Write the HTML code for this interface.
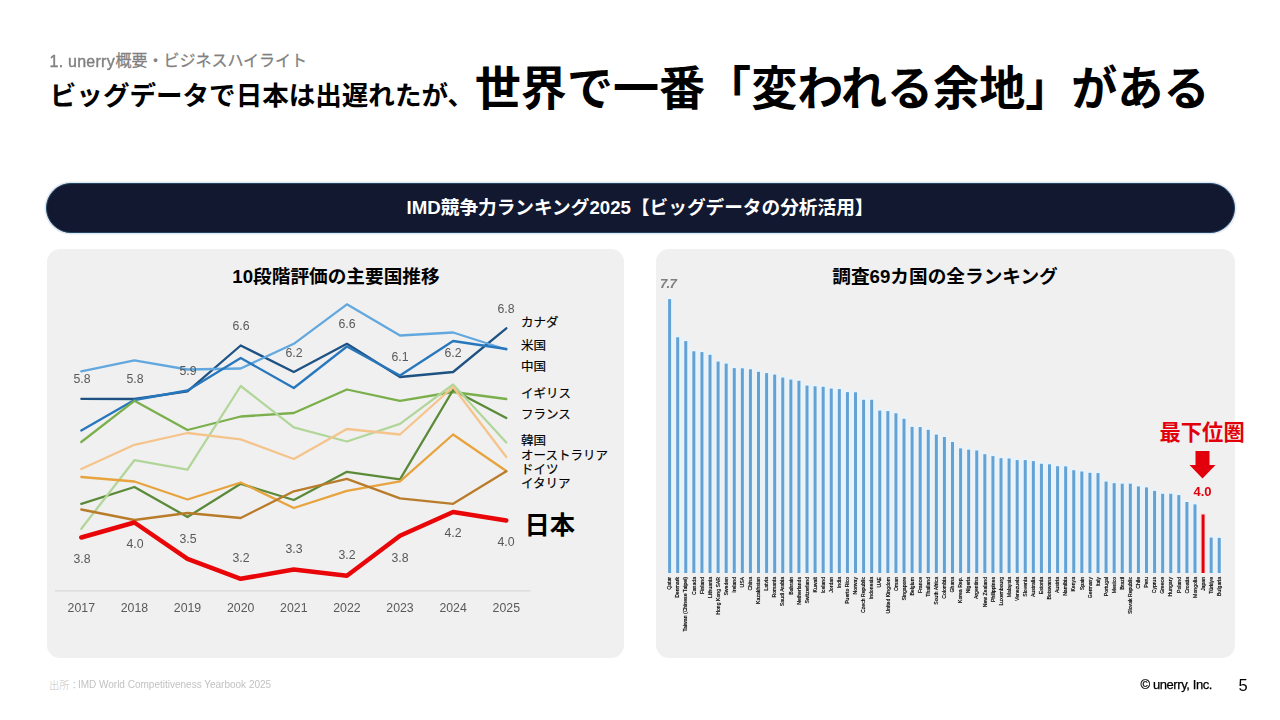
<!DOCTYPE html>
<html lang="ja"><head><meta charset="utf-8"><title>unerry - IMD競争力ランキング2025</title>
<style>
html,body{margin:0;padding:0;background:#fff;}
body{width:1280px;height:720px;overflow:hidden;font-family:"Liberation Sans",sans-serif;}
.slide{position:relative;width:1280px;height:720px;background:#fff;overflow:hidden;}
.panel{position:absolute;top:249.2px;height:408.5px;background:#f0f0f0;border-radius:13px;}
.pill{position:absolute;left:46px;top:182.8px;width:1189px;height:50.3px;box-sizing:border-box;border-radius:25.15px;background:#11182f;border:1.6px solid #214465;box-shadow:0 0 0 1.6px #e3e9f0;}
svg.art{position:absolute;left:0;top:0;width:1280px;height:720px;overflow:visible;}
svg.art text{font-family:"Liberation Sans","Noto Sans CJK JP",sans-serif;}
.labels{position:absolute;left:0;top:0;width:1280px;height:720px;will-change:transform;}
.t{position:absolute;white-space:nowrap;font-family:"Liberation Sans",sans-serif;}
.cn{position:absolute;white-space:nowrap;font-family:"Liberation Sans",sans-serif;font-size:5.15px;line-height:5.15px;font-weight:normal;color:#000;transform-origin:0 0;transform:rotate(-90deg) translateX(-100%);letter-spacing:0px;-webkit-text-stroke:0.18px #000;}
</style></head>
<body><div class="slide">
<div class="panel" style="left:47.4px;width:577.0px"></div>
<div class="panel" style="left:656px;width:579.0px"></div>
<div class="pill"></div>
<svg class="art" viewBox="0 0 1280 720" width="1280" height="720">
<text x="115.4" y="66.3" font-size="16" fill="#808080" stroke="#808080" stroke-width="0.26">概要・ビジネスハイライト</text>
<text x="49.8" y="105.2" font-size="26.55" font-weight="bold" fill="#000">ビッグデータで日本は出遅れたが、</text>
<text x="474.8" y="104.7" font-size="46.07" font-weight="bold" fill="#000">世界で一番「変われる余地」がある</text>
<text x="640" y="214.3" font-size="18.67" font-weight="bold" fill="#fff" text-anchor="middle">IMD競争力ランキング2025【ビッグデータの分析活用】</text>
<polyline points="81.3,398.8 134.4,399.0 187.5,391.3 240.7,345.5 293.8,372.0 346.9,343.8 400.0,377.0 453.1,372.0 506.3,328.3" fill="none" stroke="#1d5283" stroke-width="2.3" stroke-linejoin="round" stroke-linecap="round"/>
<polyline points="81.3,371.3 134.4,360.3 187.5,369.5 240.7,368.5 293.8,343.8 346.9,304.3 400.0,335.5 453.1,332.5 506.3,349.5" fill="none" stroke="#62a8df" stroke-width="2.3" stroke-linejoin="round" stroke-linecap="round"/>
<polyline points="81.3,430.5 134.4,400.0 187.5,390.5 240.7,358.0 293.8,388.0 346.9,346.5 400.0,375.5 453.1,341.0 506.3,349.0" fill="none" stroke="#2877bd" stroke-width="2.3" stroke-linejoin="round" stroke-linecap="round"/>
<polyline points="81.3,442.0 134.4,400.8 187.5,430.0 240.7,416.5 293.8,413.0 346.9,389.5 400.0,400.8 453.1,392.0 506.3,399.0" fill="none" stroke="#7aaf4c" stroke-width="2.3" stroke-linejoin="round" stroke-linecap="round"/>
<polyline points="81.3,503.8 134.4,487.0 187.5,517.0 240.7,483.8 293.8,500.0 346.9,471.8 400.0,479.3 453.1,390.0 506.3,418.0" fill="none" stroke="#5b8a39" stroke-width="2.3" stroke-linejoin="round" stroke-linecap="round"/>
<polyline points="81.3,528.8 134.4,460.2 187.5,469.6 240.7,386.0 293.8,427.3 346.9,441.5 400.0,423.8 453.1,384.5 506.3,442.5" fill="none" stroke="#b2d69a" stroke-width="2.3" stroke-linejoin="round" stroke-linecap="round"/>
<polyline points="81.3,469.0 134.4,444.8 187.5,433.0 240.7,439.3 293.8,459.0 346.9,429.0 400.0,434.5 453.1,387.0 506.3,457.0" fill="none" stroke="#f5c48c" stroke-width="2.3" stroke-linejoin="round" stroke-linecap="round"/>
<polyline points="81.3,477.0 134.4,481.5 187.5,499.5 240.7,482.5 293.8,508.0 346.9,490.8 400.0,481.3 453.1,434.5 506.3,471.0" fill="none" stroke="#e7a33e" stroke-width="2.3" stroke-linejoin="round" stroke-linecap="round"/>
<polyline points="81.3,509.5 134.4,520.0 187.5,513.0 240.7,518.0 293.8,491.3 346.9,478.8 400.0,498.3 453.1,503.8 506.3,471.3" fill="none" stroke="#b87c2a" stroke-width="2.3" stroke-linejoin="round" stroke-linecap="round"/>
<polyline points="81.3,537.5 134.4,522.5 187.5,558.8 240.7,578.8 293.8,569.5 346.9,575.8 400.0,535.8 453.1,512.0 506.3,520.5" fill="none" stroke="#e90609" stroke-width="4.5" stroke-linejoin="round" stroke-linecap="round"/>
<line x1="55" x2="530.5" y1="590.8" y2="590.8" stroke="#d9d9d9" stroke-width="1.2"/>
<text x="336" y="283" font-size="18.67" font-weight="bold" fill="#000" text-anchor="middle">10段階評価の主要国推移</text>
<text x="521" y="327" font-size="12.5" fill="#000" stroke="#000" stroke-width="0.175">カナダ</text>
<text x="521" y="350" font-size="12.5" fill="#000" stroke="#000" stroke-width="0.175">米国</text>
<text x="521" y="371" font-size="12.5" fill="#000" stroke="#000" stroke-width="0.175">中国</text>
<text x="521" y="398" font-size="12.5" fill="#000" stroke="#000" stroke-width="0.175">イギリス</text>
<text x="521" y="419" font-size="12.5" fill="#000" stroke="#000" stroke-width="0.175">フランス</text>
<text x="521" y="445" font-size="12.5" fill="#000" stroke="#000" stroke-width="0.175">韓国</text>
<text x="521" y="460" font-size="12.5" fill="#000" stroke="#000" stroke-width="0.175">オーストラリア</text>
<text x="521" y="474" font-size="12.5" fill="#000" stroke="#000" stroke-width="0.175">ドイツ</text>
<text x="521" y="488" font-size="12.5" fill="#000" stroke="#000" stroke-width="0.175">イタリア</text>
<text x="524.4" y="534.2" font-size="25.3" font-weight="bold" fill="#000">日本</text>
<rect x="666.40" y="297.50" width="6.40" height="275.50" fill="#e7f4fd"/>
<rect x="668.10" y="299.10" width="3.00" height="273.90" fill="#64a2d4"/>
<rect x="674.48" y="335.70" width="6.40" height="237.30" fill="#e7f4fd"/>
<rect x="676.18" y="337.30" width="3.00" height="235.70" fill="#64a2d4"/>
<rect x="682.57" y="339.50" width="6.40" height="233.50" fill="#e7f4fd"/>
<rect x="684.27" y="341.10" width="3.00" height="231.90" fill="#64a2d4"/>
<rect x="690.65" y="349.70" width="6.40" height="223.30" fill="#e7f4fd"/>
<rect x="692.35" y="351.30" width="3.00" height="221.70" fill="#64a2d4"/>
<rect x="698.73" y="350.50" width="6.40" height="222.50" fill="#e7f4fd"/>
<rect x="700.43" y="352.10" width="3.00" height="220.90" fill="#64a2d4"/>
<rect x="706.81" y="353.20" width="6.40" height="219.80" fill="#e7f4fd"/>
<rect x="708.51" y="354.80" width="3.00" height="218.20" fill="#64a2d4"/>
<rect x="714.90" y="360.00" width="6.40" height="213.00" fill="#e7f4fd"/>
<rect x="716.60" y="361.60" width="3.00" height="211.40" fill="#64a2d4"/>
<rect x="722.98" y="362.00" width="6.40" height="211.00" fill="#e7f4fd"/>
<rect x="724.68" y="363.60" width="3.00" height="209.40" fill="#64a2d4"/>
<rect x="731.06" y="366.50" width="6.40" height="206.50" fill="#e7f4fd"/>
<rect x="732.76" y="368.10" width="3.00" height="204.90" fill="#64a2d4"/>
<rect x="739.15" y="366.70" width="6.40" height="206.30" fill="#e7f4fd"/>
<rect x="740.85" y="368.30" width="3.00" height="204.70" fill="#64a2d4"/>
<rect x="747.23" y="367.70" width="6.40" height="205.30" fill="#e7f4fd"/>
<rect x="748.93" y="369.30" width="3.00" height="203.70" fill="#64a2d4"/>
<rect x="755.31" y="370.20" width="6.40" height="202.80" fill="#e7f4fd"/>
<rect x="757.01" y="371.80" width="3.00" height="201.20" fill="#64a2d4"/>
<rect x="763.40" y="371.50" width="6.40" height="201.50" fill="#e7f4fd"/>
<rect x="765.10" y="373.10" width="3.00" height="199.90" fill="#64a2d4"/>
<rect x="771.48" y="373.00" width="6.40" height="200.00" fill="#e7f4fd"/>
<rect x="773.18" y="374.60" width="3.00" height="198.40" fill="#64a2d4"/>
<rect x="779.56" y="376.00" width="6.40" height="197.00" fill="#e7f4fd"/>
<rect x="781.26" y="377.60" width="3.00" height="195.40" fill="#64a2d4"/>
<rect x="787.64" y="378.00" width="6.40" height="195.00" fill="#e7f4fd"/>
<rect x="789.35" y="379.60" width="3.00" height="193.40" fill="#64a2d4"/>
<rect x="795.73" y="379.20" width="6.40" height="193.80" fill="#e7f4fd"/>
<rect x="797.43" y="380.80" width="3.00" height="192.20" fill="#64a2d4"/>
<rect x="803.81" y="384.00" width="6.40" height="189.00" fill="#e7f4fd"/>
<rect x="805.51" y="385.60" width="3.00" height="187.40" fill="#64a2d4"/>
<rect x="811.89" y="384.70" width="6.40" height="188.30" fill="#e7f4fd"/>
<rect x="813.59" y="386.30" width="3.00" height="186.70" fill="#64a2d4"/>
<rect x="819.98" y="385.20" width="6.40" height="187.80" fill="#e7f4fd"/>
<rect x="821.68" y="386.80" width="3.00" height="186.20" fill="#64a2d4"/>
<rect x="828.06" y="387.00" width="6.40" height="186.00" fill="#e7f4fd"/>
<rect x="829.76" y="388.60" width="3.00" height="184.40" fill="#64a2d4"/>
<rect x="836.14" y="387.50" width="6.40" height="185.50" fill="#e7f4fd"/>
<rect x="837.84" y="389.10" width="3.00" height="183.90" fill="#64a2d4"/>
<rect x="844.23" y="390.50" width="6.40" height="182.50" fill="#e7f4fd"/>
<rect x="845.93" y="392.10" width="3.00" height="180.90" fill="#64a2d4"/>
<rect x="852.31" y="390.70" width="6.40" height="182.30" fill="#e7f4fd"/>
<rect x="854.01" y="392.30" width="3.00" height="180.70" fill="#64a2d4"/>
<rect x="860.39" y="398.20" width="6.40" height="174.80" fill="#e7f4fd"/>
<rect x="862.09" y="399.80" width="3.00" height="173.20" fill="#64a2d4"/>
<rect x="868.48" y="398.20" width="6.40" height="174.80" fill="#e7f4fd"/>
<rect x="870.18" y="399.80" width="3.00" height="173.20" fill="#64a2d4"/>
<rect x="876.56" y="409.00" width="6.40" height="164.00" fill="#e7f4fd"/>
<rect x="878.26" y="410.60" width="3.00" height="162.40" fill="#64a2d4"/>
<rect x="884.64" y="409.50" width="6.40" height="163.50" fill="#e7f4fd"/>
<rect x="886.34" y="411.10" width="3.00" height="161.90" fill="#64a2d4"/>
<rect x="892.72" y="411.70" width="6.40" height="161.30" fill="#e7f4fd"/>
<rect x="894.42" y="413.30" width="3.00" height="159.70" fill="#64a2d4"/>
<rect x="900.81" y="417.20" width="6.40" height="155.80" fill="#e7f4fd"/>
<rect x="902.51" y="418.80" width="3.00" height="154.20" fill="#64a2d4"/>
<rect x="908.89" y="425.30" width="6.40" height="147.70" fill="#e7f4fd"/>
<rect x="910.59" y="426.90" width="3.00" height="146.10" fill="#64a2d4"/>
<rect x="916.97" y="425.50" width="6.40" height="147.50" fill="#e7f4fd"/>
<rect x="918.67" y="427.10" width="3.00" height="145.90" fill="#64a2d4"/>
<rect x="925.06" y="428.20" width="6.40" height="144.80" fill="#e7f4fd"/>
<rect x="926.76" y="429.80" width="3.00" height="143.20" fill="#64a2d4"/>
<rect x="933.14" y="433.00" width="6.40" height="140.00" fill="#e7f4fd"/>
<rect x="934.84" y="434.60" width="3.00" height="138.40" fill="#64a2d4"/>
<rect x="941.22" y="435.40" width="6.40" height="137.60" fill="#e7f4fd"/>
<rect x="942.92" y="437.00" width="3.00" height="136.00" fill="#64a2d4"/>
<rect x="949.31" y="440.40" width="6.40" height="132.60" fill="#e7f4fd"/>
<rect x="951.01" y="442.00" width="3.00" height="131.00" fill="#64a2d4"/>
<rect x="957.39" y="446.80" width="6.40" height="126.20" fill="#e7f4fd"/>
<rect x="959.09" y="448.40" width="3.00" height="124.60" fill="#64a2d4"/>
<rect x="965.47" y="448.10" width="6.40" height="124.90" fill="#e7f4fd"/>
<rect x="967.17" y="449.70" width="3.00" height="123.30" fill="#64a2d4"/>
<rect x="973.55" y="448.90" width="6.40" height="124.10" fill="#e7f4fd"/>
<rect x="975.25" y="450.50" width="3.00" height="122.50" fill="#64a2d4"/>
<rect x="981.64" y="452.60" width="6.40" height="120.40" fill="#e7f4fd"/>
<rect x="983.34" y="454.20" width="3.00" height="118.80" fill="#64a2d4"/>
<rect x="989.72" y="454.50" width="6.40" height="118.50" fill="#e7f4fd"/>
<rect x="991.42" y="456.10" width="3.00" height="116.90" fill="#64a2d4"/>
<rect x="997.80" y="456.60" width="6.40" height="116.40" fill="#e7f4fd"/>
<rect x="999.50" y="458.20" width="3.00" height="114.80" fill="#64a2d4"/>
<rect x="1005.89" y="456.90" width="6.40" height="116.10" fill="#e7f4fd"/>
<rect x="1007.59" y="458.50" width="3.00" height="114.50" fill="#64a2d4"/>
<rect x="1013.97" y="458.50" width="6.40" height="114.50" fill="#e7f4fd"/>
<rect x="1015.67" y="460.10" width="3.00" height="112.90" fill="#64a2d4"/>
<rect x="1022.05" y="458.50" width="6.40" height="114.50" fill="#e7f4fd"/>
<rect x="1023.75" y="460.10" width="3.00" height="112.90" fill="#64a2d4"/>
<rect x="1030.13" y="459.50" width="6.40" height="113.50" fill="#e7f4fd"/>
<rect x="1031.84" y="461.10" width="3.00" height="111.90" fill="#64a2d4"/>
<rect x="1038.22" y="462.20" width="6.40" height="110.80" fill="#e7f4fd"/>
<rect x="1039.92" y="463.80" width="3.00" height="109.20" fill="#64a2d4"/>
<rect x="1046.30" y="462.70" width="6.40" height="110.30" fill="#e7f4fd"/>
<rect x="1048.00" y="464.30" width="3.00" height="108.70" fill="#64a2d4"/>
<rect x="1054.38" y="464.60" width="6.40" height="108.40" fill="#e7f4fd"/>
<rect x="1056.08" y="466.20" width="3.00" height="106.80" fill="#64a2d4"/>
<rect x="1062.47" y="464.80" width="6.40" height="108.20" fill="#e7f4fd"/>
<rect x="1064.17" y="466.40" width="3.00" height="106.60" fill="#64a2d4"/>
<rect x="1070.55" y="468.60" width="6.40" height="104.40" fill="#e7f4fd"/>
<rect x="1072.25" y="470.20" width="3.00" height="102.80" fill="#64a2d4"/>
<rect x="1078.63" y="469.90" width="6.40" height="103.10" fill="#e7f4fd"/>
<rect x="1080.33" y="471.50" width="3.00" height="101.50" fill="#64a2d4"/>
<rect x="1086.72" y="471.20" width="6.40" height="101.80" fill="#e7f4fd"/>
<rect x="1088.42" y="472.80" width="3.00" height="100.20" fill="#64a2d4"/>
<rect x="1094.80" y="471.50" width="6.40" height="101.50" fill="#e7f4fd"/>
<rect x="1096.50" y="473.10" width="3.00" height="99.90" fill="#64a2d4"/>
<rect x="1102.88" y="480.00" width="6.40" height="93.00" fill="#e7f4fd"/>
<rect x="1104.58" y="481.60" width="3.00" height="91.40" fill="#64a2d4"/>
<rect x="1110.96" y="481.60" width="6.40" height="91.40" fill="#e7f4fd"/>
<rect x="1112.66" y="483.20" width="3.00" height="89.80" fill="#64a2d4"/>
<rect x="1119.05" y="482.10" width="6.40" height="90.90" fill="#e7f4fd"/>
<rect x="1120.75" y="483.70" width="3.00" height="89.30" fill="#64a2d4"/>
<rect x="1127.13" y="482.10" width="6.40" height="90.90" fill="#e7f4fd"/>
<rect x="1128.83" y="483.70" width="3.00" height="89.30" fill="#64a2d4"/>
<rect x="1135.21" y="484.80" width="6.40" height="88.20" fill="#e7f4fd"/>
<rect x="1136.91" y="486.40" width="3.00" height="86.60" fill="#64a2d4"/>
<rect x="1143.30" y="485.80" width="6.40" height="87.20" fill="#e7f4fd"/>
<rect x="1145.00" y="487.40" width="3.00" height="85.60" fill="#64a2d4"/>
<rect x="1151.38" y="489.30" width="6.40" height="83.70" fill="#e7f4fd"/>
<rect x="1153.08" y="490.90" width="3.00" height="82.10" fill="#64a2d4"/>
<rect x="1159.46" y="492.20" width="6.40" height="80.80" fill="#e7f4fd"/>
<rect x="1161.16" y="493.80" width="3.00" height="79.20" fill="#64a2d4"/>
<rect x="1167.55" y="492.20" width="6.40" height="80.80" fill="#e7f4fd"/>
<rect x="1169.25" y="493.80" width="3.00" height="79.20" fill="#64a2d4"/>
<rect x="1175.63" y="493.50" width="6.40" height="79.50" fill="#e7f4fd"/>
<rect x="1177.33" y="495.10" width="3.00" height="77.90" fill="#64a2d4"/>
<rect x="1183.71" y="500.40" width="6.40" height="72.60" fill="#e7f4fd"/>
<rect x="1185.41" y="502.00" width="3.00" height="71.00" fill="#64a2d4"/>
<rect x="1191.79" y="502.80" width="6.40" height="70.20" fill="#e7f4fd"/>
<rect x="1193.49" y="504.40" width="3.00" height="68.60" fill="#64a2d4"/>
<rect x="1199.88" y="512.90" width="6.40" height="60.10" fill="#f6e4e4"/>
<rect x="1201.58" y="514.50" width="3.00" height="58.50" fill="#e2000c"/>
<rect x="1207.96" y="536.00" width="6.40" height="37.00" fill="#e7f4fd"/>
<rect x="1209.66" y="537.60" width="3.00" height="35.40" fill="#64a2d4"/>
<rect x="1216.04" y="536.30" width="6.40" height="36.70" fill="#e7f4fd"/>
<rect x="1217.74" y="537.90" width="3.00" height="35.10" fill="#64a2d4"/>
<text x="945" y="283" font-size="18.67" font-weight="bold" fill="#000" text-anchor="middle">調査69カ国の全ランキング</text>
<text x="1159.5" y="440" font-size="21.3" font-weight="bold" fill="#e2000c">最下位圏</text>
<path fill="#e2000c" d="M1195.5 451H1209.5V465H1215.5L1202.5 478.6L1189.5 465H1195.5Z"/>
<text x="49.2" y="688.8" font-size="10" font-weight="300" fill="#c2c2c2">出所：</text>
</svg>
<div class="labels">
<span class="t" style="left:49.5px;top:53.0px;font-size:16px;line-height:18.38px;color:#808080;font-weight:normal;-webkit-text-stroke:0.4px #808080;letter-spacing:0.25px;">1. unerry</span>
<span class="t" style="left:81.3px;top:600.8px;font-size:12.3px;line-height:14.13px;color:#595959;font-weight:normal;transform:translateX(-50%);">2017</span>
<span class="t" style="left:134.4px;top:600.8px;font-size:12.3px;line-height:14.13px;color:#595959;font-weight:normal;transform:translateX(-50%);">2018</span>
<span class="t" style="left:187.5px;top:600.8px;font-size:12.3px;line-height:14.13px;color:#595959;font-weight:normal;transform:translateX(-50%);">2019</span>
<span class="t" style="left:240.7px;top:600.8px;font-size:12.3px;line-height:14.13px;color:#595959;font-weight:normal;transform:translateX(-50%);">2020</span>
<span class="t" style="left:293.8px;top:600.8px;font-size:12.3px;line-height:14.13px;color:#595959;font-weight:normal;transform:translateX(-50%);">2021</span>
<span class="t" style="left:346.9px;top:600.8px;font-size:12.3px;line-height:14.13px;color:#595959;font-weight:normal;transform:translateX(-50%);">2022</span>
<span class="t" style="left:400.0px;top:600.8px;font-size:12.3px;line-height:14.13px;color:#595959;font-weight:normal;transform:translateX(-50%);">2023</span>
<span class="t" style="left:453.1px;top:600.8px;font-size:12.3px;line-height:14.13px;color:#595959;font-weight:normal;transform:translateX(-50%);">2024</span>
<span class="t" style="left:506.3px;top:600.8px;font-size:12.3px;line-height:14.13px;color:#595959;font-weight:normal;transform:translateX(-50%);">2025</span>
<span class="t" style="left:82.0px;top:371.5px;font-size:12.3px;line-height:14.13px;color:#595959;font-weight:normal;transform:translateX(-50%);">5.8</span>
<span class="t" style="left:135.0px;top:371.5px;font-size:12.3px;line-height:14.13px;color:#595959;font-weight:normal;transform:translateX(-50%);">5.8</span>
<span class="t" style="left:188.0px;top:363.5px;font-size:12.3px;line-height:14.13px;color:#595959;font-weight:normal;transform:translateX(-50%);">5.9</span>
<span class="t" style="left:241.0px;top:318.5px;font-size:12.3px;line-height:14.13px;color:#595959;font-weight:normal;transform:translateX(-50%);">6.6</span>
<span class="t" style="left:294.0px;top:345.5px;font-size:12.3px;line-height:14.13px;color:#595959;font-weight:normal;transform:translateX(-50%);">6.2</span>
<span class="t" style="left:347.0px;top:316.5px;font-size:12.3px;line-height:14.13px;color:#595959;font-weight:normal;transform:translateX(-50%);">6.6</span>
<span class="t" style="left:400.0px;top:349.5px;font-size:12.3px;line-height:14.13px;color:#595959;font-weight:normal;transform:translateX(-50%);">6.1</span>
<span class="t" style="left:453.0px;top:345.5px;font-size:12.3px;line-height:14.13px;color:#595959;font-weight:normal;transform:translateX(-50%);">6.2</span>
<span class="t" style="left:506.0px;top:301.5px;font-size:12.3px;line-height:14.13px;color:#595959;font-weight:normal;transform:translateX(-50%);">6.8</span>
<span class="t" style="left:82.0px;top:551.5px;font-size:12.3px;line-height:14.13px;color:#595959;font-weight:normal;transform:translateX(-50%);">3.8</span>
<span class="t" style="left:135.0px;top:536.5px;font-size:12.3px;line-height:14.13px;color:#595959;font-weight:normal;transform:translateX(-50%);">4.0</span>
<span class="t" style="left:188.0px;top:531.5px;font-size:12.3px;line-height:14.13px;color:#595959;font-weight:normal;transform:translateX(-50%);">3.5</span>
<span class="t" style="left:241.0px;top:550.5px;font-size:12.3px;line-height:14.13px;color:#595959;font-weight:normal;transform:translateX(-50%);">3.2</span>
<span class="t" style="left:294.0px;top:541.5px;font-size:12.3px;line-height:14.13px;color:#595959;font-weight:normal;transform:translateX(-50%);">3.3</span>
<span class="t" style="left:347.0px;top:547.5px;font-size:12.3px;line-height:14.13px;color:#595959;font-weight:normal;transform:translateX(-50%);">3.2</span>
<span class="t" style="left:400.0px;top:550.5px;font-size:12.3px;line-height:14.13px;color:#595959;font-weight:normal;transform:translateX(-50%);">3.8</span>
<span class="t" style="left:453.0px;top:525.5px;font-size:12.3px;line-height:14.13px;color:#595959;font-weight:normal;transform:translateX(-50%);">4.2</span>
<span class="t" style="left:506.0px;top:534.5px;font-size:12.3px;line-height:14.13px;color:#595959;font-weight:normal;transform:translateX(-50%);">4.0</span>
<span class="cn" style="left:667.30px;top:577.00px;">Qatar</span>
<span class="cn" style="left:675.38px;top:577.00px;">Denmark</span>
<span class="cn" style="left:683.47px;top:577.00px;">Taiwan (Chinese Taipei)</span>
<span class="cn" style="left:691.55px;top:577.00px;">Canada</span>
<span class="cn" style="left:699.63px;top:577.00px;">Finland</span>
<span class="cn" style="left:707.72px;top:577.00px;">Lithuania</span>
<span class="cn" style="left:715.80px;top:577.00px;">Hong Kong SAR</span>
<span class="cn" style="left:723.88px;top:577.00px;">Sweden</span>
<span class="cn" style="left:731.96px;top:577.00px;">Ireland</span>
<span class="cn" style="left:740.05px;top:577.00px;">USA</span>
<span class="cn" style="left:748.13px;top:577.00px;">China</span>
<span class="cn" style="left:756.21px;top:577.00px;">Kazakhstan</span>
<span class="cn" style="left:764.30px;top:577.00px;">Latvia</span>
<span class="cn" style="left:772.38px;top:577.00px;">Romania</span>
<span class="cn" style="left:780.46px;top:577.00px;">Saudi Arabia</span>
<span class="cn" style="left:788.55px;top:577.00px;">Bahrain</span>
<span class="cn" style="left:796.63px;top:577.00px;">Netherlands</span>
<span class="cn" style="left:804.71px;top:577.00px;">Switzerland</span>
<span class="cn" style="left:812.79px;top:577.00px;">Kuwait</span>
<span class="cn" style="left:820.88px;top:577.00px;">Iceland</span>
<span class="cn" style="left:828.96px;top:577.00px;">Jordan</span>
<span class="cn" style="left:837.04px;top:577.00px;">India</span>
<span class="cn" style="left:845.13px;top:577.00px;">Puerto Rico</span>
<span class="cn" style="left:853.21px;top:577.00px;">Norway</span>
<span class="cn" style="left:861.29px;top:577.00px;">Czech Republic</span>
<span class="cn" style="left:869.38px;top:577.00px;">Indonesia</span>
<span class="cn" style="left:877.46px;top:577.00px;">UAE</span>
<span class="cn" style="left:885.54px;top:577.00px;">United Kingdom</span>
<span class="cn" style="left:893.62px;top:577.00px;">Oman</span>
<span class="cn" style="left:901.71px;top:577.00px;">Singapore</span>
<span class="cn" style="left:909.79px;top:577.00px;">Belgium</span>
<span class="cn" style="left:917.87px;top:577.00px;">France</span>
<span class="cn" style="left:925.96px;top:577.00px;">Thailand</span>
<span class="cn" style="left:934.04px;top:577.00px;">South Africa</span>
<span class="cn" style="left:942.12px;top:577.00px;">Colombia</span>
<span class="cn" style="left:950.21px;top:577.00px;">Ghana</span>
<span class="cn" style="left:958.29px;top:577.00px;">Korea Rep.</span>
<span class="cn" style="left:966.37px;top:577.00px;">Nigeria</span>
<span class="cn" style="left:974.45px;top:577.00px;">Argentina</span>
<span class="cn" style="left:982.54px;top:577.00px;">New Zealand</span>
<span class="cn" style="left:990.62px;top:577.00px;">Philippines</span>
<span class="cn" style="left:998.70px;top:577.00px;">Luxembourg</span>
<span class="cn" style="left:1006.79px;top:577.00px;">Malaysia</span>
<span class="cn" style="left:1014.87px;top:577.00px;">Venezuela</span>
<span class="cn" style="left:1022.95px;top:577.00px;">Slovenia</span>
<span class="cn" style="left:1031.04px;top:577.00px;">Australia</span>
<span class="cn" style="left:1039.12px;top:577.00px;">Estonia</span>
<span class="cn" style="left:1047.20px;top:577.00px;">Botswana</span>
<span class="cn" style="left:1055.28px;top:577.00px;">Austria</span>
<span class="cn" style="left:1063.37px;top:577.00px;">Namibia</span>
<span class="cn" style="left:1071.45px;top:577.00px;">Kenya</span>
<span class="cn" style="left:1079.53px;top:577.00px;">Spain</span>
<span class="cn" style="left:1087.62px;top:577.00px;">Germany</span>
<span class="cn" style="left:1095.70px;top:577.00px;">Italy</span>
<span class="cn" style="left:1103.78px;top:577.00px;">Portugal</span>
<span class="cn" style="left:1111.87px;top:577.00px;">Mexico</span>
<span class="cn" style="left:1119.95px;top:577.00px;">Brazil</span>
<span class="cn" style="left:1128.03px;top:577.00px;">Slovak Republic</span>
<span class="cn" style="left:1136.11px;top:577.00px;">Chile</span>
<span class="cn" style="left:1144.20px;top:577.00px;">Peru</span>
<span class="cn" style="left:1152.28px;top:577.00px;">Cyprus</span>
<span class="cn" style="left:1160.36px;top:577.00px;">Greece</span>
<span class="cn" style="left:1168.45px;top:577.00px;">Hungary</span>
<span class="cn" style="left:1176.53px;top:577.00px;">Poland</span>
<span class="cn" style="left:1184.61px;top:577.00px;">Croatia</span>
<span class="cn" style="left:1192.69px;top:577.00px;">Mongolia</span>
<span class="cn" style="left:1200.78px;top:577.00px;">Japan</span>
<span class="cn" style="left:1208.86px;top:577.00px;">Türkiye</span>
<span class="cn" style="left:1216.94px;top:577.00px;">Bulgaria</span>
<span class="t" style="left:668.0px;top:276.3px;font-size:13.2px;line-height:15.17px;color:#7f7f7f;font-weight:bold;transform:translateX(-50%);font-style:italic;letter-spacing:-0.7px;">7.7</span>
<span class="t" style="left:1202.5px;top:485.0px;font-size:13px;line-height:14.94px;color:#e2000c;font-weight:bold;transform:translateX(-50%);">4.0</span>
<span class="t" style="left:77.9px;top:678.8px;font-size:10px;line-height:11.49px;color:#c2c2c2;font-weight:normal;letter-spacing:0px;">IMD World Competitiveness Yearbook 2025</span>
<span class="t" style="left:1140.6px;top:678.1px;font-size:13px;line-height:14.94px;color:#000;font-weight:normal;letter-spacing:-0.42px;-webkit-text-stroke:0.25px #000;">© unerry, Inc.</span>
<span class="t" style="left:1238.5px;top:676.0px;font-size:16.5px;line-height:18.96px;color:#000;font-weight:normal;">5</span>
</div>
</div></body></html>
